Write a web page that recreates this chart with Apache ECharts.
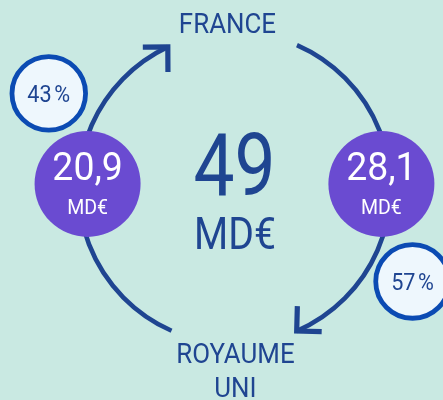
<!DOCTYPE html>
<html><head><meta charset="utf-8">
<script src="https://cdn.jsdelivr.net/npm/echarts@6/dist/echarts.min.js"></script>
<style>html,body{margin:0;padding:0;background:#c9e9e2;}#chart{width:443px;height:400px;}</style>
</head><body><div id="chart"></div>
<script>
// ---- data ----
const countries = ['FRANCE', 'ROYAUME UNI'];
const flowFrom = ['ROYAUME UNI', 'FRANCE'];
const flowTo = ['FRANCE', 'ROYAUME UNI'];
const flowValues = [20.9, 28.1];
const flowShares = [43, 57];
const totalValue = 49;
const unitLabel = 'MD€';

// ---- layout (unit circle; angles in degrees, math orientation) ----
const X_MIN = -1.503, X_MAX = 1.3365, Y_MIN = -1.359, Y_MAX = 1.2051;
const flowArc = [[246.2, 115.3], [66.4, -66.5]];
const nodePos = [[178.4, 0.942], [1.6, 0.942]];
const sharePos = [[153, 1.336], [-27.7, 1.289]];
const countryPos = [[-0.045, 1.058], [0.006, -1.167]];
const totalPos = [[0.0, 0.163], [0.003, -0.285]];

const DARK = '#1f4591', PURPLE = '#6a4bd1', RING = '#0b4bb3', BUBBLE = '#eef7fd';
const FONT = 'Roboto, "Noto Sans", sans-serif';
const rad = d => d * Math.PI / 180;
const polar = (a, r) => [r * Math.cos(rad(a)), r * Math.sin(rad(a))];
const fmt = v => v.toFixed(1).replace('.', ',');

function txt(x, y, text, size, color, sx, extra) {
  return {
    type: 'text', x: x, y: y + 0.12 * size, scaleX: sx || 1,
    style: Object.assign({ text: text, fill: color, font: '400 ' + size + 'px ' + FONT,
      align: 'center', verticalAlign: 'middle' }, extra || {})
  };
}

const option = {
  backgroundColor: '#c9e9e2',
  animation: false,
  grid: { left: 0, right: 0, top: 0, bottom: 0 },
  xAxis: { type: 'value', min: X_MIN, max: X_MAX, show: false },
  yAxis: { type: 'value', min: Y_MIN, max: Y_MAX, show: false },
  series: [
    { // flow arcs with arrowheads
      type: 'custom', z: 1,
      data: flowValues.map((v, i) => [i, v]),
      renderItem: function (params, api) {
        const i = params.dataIndex;
        const c = api.coord([0, 0]);
        const R = api.size([1, 1])[0];
        const s0 = rad(-flowArc[i][0]), s1 = rad(-flowArc[i][1]);
        const E = [c[0] + R * Math.cos(s1), c[1] + R * Math.sin(s1)];
        const t = Math.atan2(Math.cos(s1), -Math.sin(s1));
        const back = t - rad(20) + Math.PI;
        const L = 25;
        const a1 = back + rad(45), a2 = back - rad(45);
        return { type: 'group', children: [
          { type: 'arc', shape: { cx: c[0], cy: c[1], r: R, startAngle: s0, endAngle: s1, clockwise: true },
            style: { stroke: DARK, lineWidth: 4.6, fill: null } },
          { type: 'polyline', shape: { points: [
              [E[0] + L * Math.cos(a1), E[1] + L * Math.sin(a1)], E,
              [E[0] + L * Math.cos(a2), E[1] + L * Math.sin(a2)]] },
            style: { stroke: DARK, lineWidth: 5.2, fill: null, lineJoin: 'miter', lineCap: 'butt' } }
        ]};
      }
    },
    { // flow value nodes
      type: 'custom', z: 2,
      data: flowValues.map((v, i) => [i, v]),
      renderItem: function (params, api) {
        const i = params.dataIndex;
        const p = api.coord(polar(nodePos[i][0], nodePos[i][1]));
        return { type: 'group', children: [
          { type: 'circle', shape: { cx: p[0], cy: p[1], r: 53 }, style: { fill: PURPLE } },
          txt(p[0], p[1] - 18, fmt(api.value(1)), 39, '#ffffff', 0.96),
          txt(p[0], p[1] + 22.5, unitLabel, 21, '#ffffff', 0.93)
        ]};
      }
    },
    { // share bubbles
      type: 'custom', z: 3,
      data: flowShares.map((v, i) => [i, v]),
      renderItem: function (params, api) {
        const i = params.dataIndex;
        const p = api.coord(polar(sharePos[i][0], sharePos[i][1]));
        return { type: 'group', children: [
          { type: 'circle', shape: { cx: p[0], cy: p[1], r: 36.8 }, style: { fill: BUBBLE, stroke: RING, lineWidth: 4.8 } },
          txt(p[0], p[1], api.value(1) + '\u202f%', 23.5, DARK, 0.92)
        ]};
      }
    },
    { // country labels
      type: 'custom', z: 3,
      data: countries.map((c, i) => [i, 0]),
      renderItem: function (params, api) {
        const i = params.dataIndex;
        const p = api.coord(countryPos[i]);
        return txt(p[0], p[1], countries[i].split(' ').join('\n'), 28, DARK, 0.925, { lineHeight: 34 });
      }
    },
    { // total
      type: 'custom', z: 3,
      data: [[0, totalValue]],
      renderItem: function (params, api) {
        const p0 = api.coord(totalPos[0]);
        const p1 = api.coord(totalPos[1]);
        return { type: 'group', children: [
          txt(p0[0], p0[1], String(api.value(1)), 88, DARK, 0.83),
          txt(p1[0], p1[1], unitLabel, 44, DARK, 0.89)
        ]};
      }
    }
  ]
};
const chart = echarts.init(document.getElementById('chart'));
chart.setOption(option);
</script></body></html>
